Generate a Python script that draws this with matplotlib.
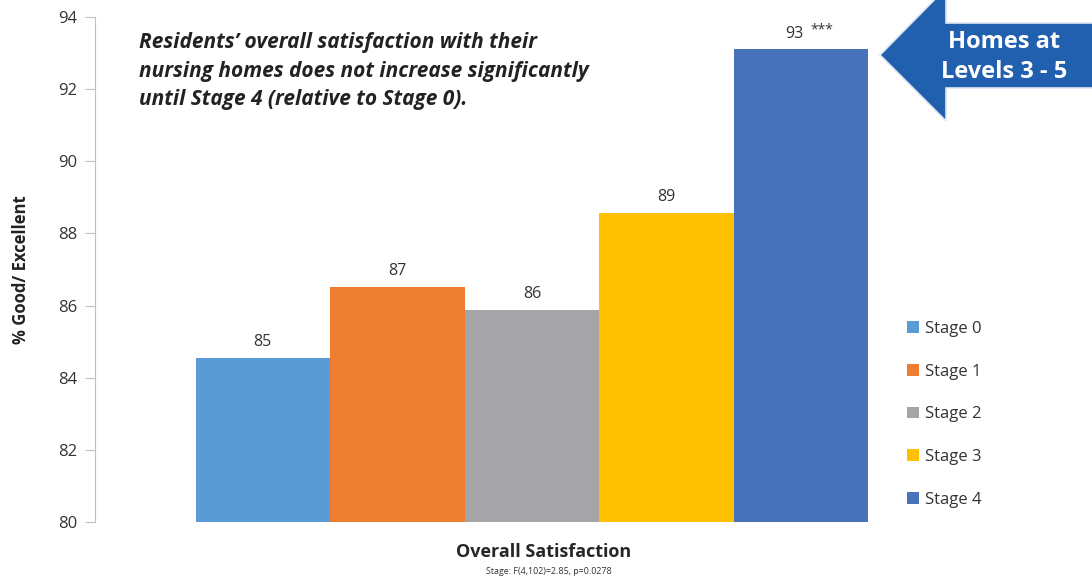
import matplotlib.pyplot as plt
import numpy as np
from matplotlib.patches import Polygon

plt.rcParams["font.family"] = ["Open Sans", "DejaVu Sans"]

# data
stages = ["Stage 0", "Stage 1", "Stage 2", "Stage 3", "Stage 4"]
values = [84.55, 86.52, 85.88, 88.58, 93.10]
sig_marks = ["", "", "", "", "***"]
colors = ["#5B9BD5", "#ED7D31", "#A5A5A7", "#FFC000", "#4872BA"]

category = "Overall Satisfaction"
ylabel = "% Good/ Excellent"
note = "Stage: F(4,102)=2.85, p=0.0278"
headline = ("Residents\u2019 overall satisfaction with their\n"
            "nursing homes does not increase significantly\n"
            "until Stage 4 (relative to Stage 0).")
callout = "Homes at\nLevels 3 - 5"

BAR_WIDTH = 0.154
W, H = 1092, 579

fig = plt.figure(figsize=(W / 100, H / 100), dpi=100)
ax = fig.add_axes([95 / W, 1 - 522 / H, (969 - 95) / W, (522 - 17) / H])

x = (np.arange(len(stages)) - (len(stages) - 1) / 2) * BAR_WIDTH
bars = ax.bar(x, np.array(values) - 80, bottom=80, width=BAR_WIDTH,
              color=colors, label=stages)

for xi, v, s in zip(x, values, sig_marks):
    if s:
        ax.text(xi - 0.008, v + 0.22, f"{v:.0f}", ha="center", va="bottom",
                fontsize=11.5, color="#333333")
        ax.text(xi + 0.024, v + 0.32, s, ha="center", va="bottom",
                fontsize=10, color="#333333")
    else:
        ax.text(xi, v + 0.22, f"{v:.0f}", ha="center", va="bottom",
                fontsize=11.5, color="#333333")

ax.set_xlim(-0.5, 0.5)
ax.set_ylim(80, 94)
ax.set_yticks(np.arange(80, 95, 2))
ax.tick_params(axis="y", labelsize=12, colors="#333333", length=7,
               color="#BFBFBF", pad=6)
ax.set_xticks([])
for side in ["top", "right", "bottom"]:
    ax.spines[side].set_visible(False)
ax.spines["left"].set_color("#BFBFBF")

ax.set_ylabel(ylabel, fontsize=12, fontweight="bold", color="#222222",
              labelpad=20)

fig.text(544 / W, 1 - 552 / H, category, ha="center", va="center",
         fontsize=13, fontweight="bold", color="#262626")
fig.text(549 / W, 1 - 572 / H, note, ha="center", va="center",
         fontsize=6.4, color="#333333")

fig.text(139 / W, 1 - 32 / H, headline, ha="left", va="top", fontsize=15,
         fontweight="bold", fontstyle="italic", color="#222222",
         linespacing=1.48)

leg = ax.legend(handles=list(bars), labels=stages, loc="upper left",
                bbox_to_anchor=(892 / W, 1 - 306 / H),
                bbox_transform=fig.transFigure, frameon=False, fontsize=12,
                handlelength=0.7, handleheight=0.7, handletextpad=0.4,
                labelspacing=1.6, labelcolor="#333333")

# callout arrow pointing at the last bar
pts = [(880, 55), (946, -12), (946, 23), (1095, 23), (1095, 88),
       (946, 88), (946, 121)]
arrow = Polygon([(px / W, 1 - py / H) for px, py in pts], closed=True,
                transform=fig.transFigure, facecolor="#2160AE",
                edgecolor="#DDE6F3", linewidth=1.2, clip_on=False)
fig.add_artist(arrow)
fig.text(1004 / W, 1 - 57 / H, callout, ha="center", va="center",
         fontsize=17, fontweight="bold", color="white", linespacing=1.38)

plt.savefig("out.png", dpi=100)
plt.close(fig)
